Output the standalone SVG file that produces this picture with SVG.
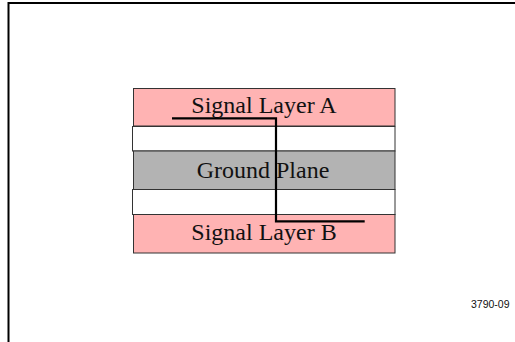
<svg xmlns="http://www.w3.org/2000/svg" width="515" height="342" viewBox="0 0 515 342">
<style>
.layer{stroke:#333;stroke-width:1}
.sig{fill:#FFB3B3}
.gap{fill:#FFFFFF}
.gnd{fill:#B3B3B3}
.lbl{font-family:"Liberation Serif","Times New Roman",serif;font-size:24px;fill:#111;text-anchor:middle}
.trace{fill:none;stroke:#000;stroke-width:2.2}
</style>
<rect width="515" height="342" fill="#fff"/>
<path d="M8.5 342 V3 H515" fill="none" stroke="#000" stroke-width="2"/>
<g id="signal-a"><rect class="layer sig" x="133.5" y="88.5" width="261.5" height="37.5"/><text class="lbl" x="264" y="113">Signal Layer A</text></g>
<g id="dielectric-1"><rect class="layer gap" x="132.5" y="126.5" width="262.5" height="24.5"/></g>
<g id="ground-plane"><rect class="layer gnd" x="133.5" y="151" width="261.5" height="38.5"/><text class="lbl" x="263" y="177.5">Ground Plane</text></g>
<g id="dielectric-2"><rect class="layer gap" x="132.5" y="189.5" width="262.5" height="25"/></g>
<g id="signal-b"><rect class="layer sig" x="133.5" y="214.5" width="261.5" height="38.5"/><text class="lbl" x="264" y="239.5">Signal Layer B</text></g>
<g id="connectors"><path class="trace" d="M172 118.3 H276 V221.3 H364.7"/></g>
<text x="509.5" y="308.3" font-family="Liberation Sans,Arial,sans-serif" font-size="10.5" fill="#111" text-anchor="end">3790-09</text>
</svg>
